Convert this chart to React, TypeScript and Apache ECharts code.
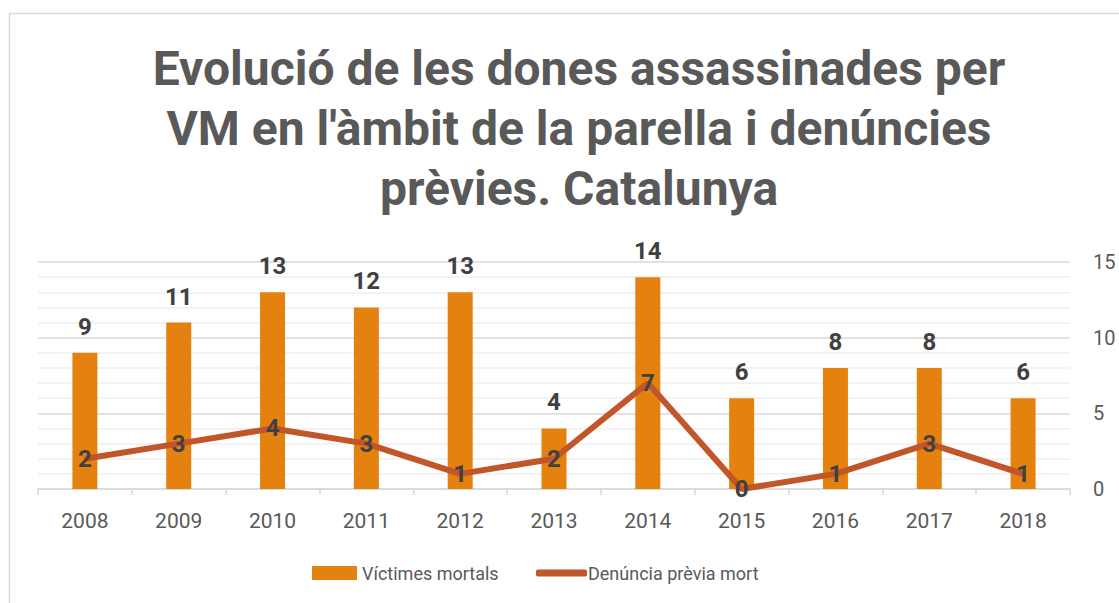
import React, { useEffect, useRef } from "react";
import * as echarts from "echarts";

const years = ["2008", "2009", "2010", "2011", "2012", "2013", "2014", "2015", "2016", "2017", "2018"];
const victimes = [9, 11, 13, 12, 13, 4, 14, 6, 8, 8, 6];
const denuncies = [2, 3, 4, 3, 1, 2, 7, 0, 1, 3, 1];
const titleText = "Evolució de les dones assassinades per\nVM en l'àmbit de la parella i denúncies\nprèvies. Catalunya";
const seriesNames = ["Víctimes mortals", "Denúncia prèvia mort"];

const FONT = "Roboto";

export default function App() {
  const ref = useRef<HTMLDivElement>(null);
  useEffect(() => {
    document.body.style.margin = "0";
    const chart = echarts.init(ref.current!, null, { renderer: "svg" });
    chart.setOption({
      animation: false,
      backgroundColor: "#ffffff",
      textStyle: { fontFamily: FONT },
      title: {
        text: titleText,
        left: 574,
        top: 33,
        textAlign: "center",
        textStyle: {
          fontFamily: FONT,
          fontWeight: "bold",
          fontSize: 48,
          lineHeight: 60,
          color: "#595959",
          align: "center",
        },
      },
      graphic: [
        {
          type: "rect",
          shape: { x: 9.5, y: 13.5, width: 1200, height: 700 },
          style: { fill: "none", stroke: "#d9d9d9", lineWidth: 1.5 },
          silent: true,
          z: -10,
        },
      ],
      legend: [
        {
          data: [seriesNames[0]],
          left: 307,
          top: 559,
          itemWidth: 45,
          itemHeight: 14,
          itemGap: 0,
          icon: "rect",
          textStyle: { fontFamily: FONT, fontSize: 18, color: "#595959" },
        },
        {
          data: [seriesNames[1]],
          left: 531,
          top: 559,
          itemWidth: 51,
          itemHeight: 7,
          icon: "roundRect",
          textStyle: { fontFamily: FONT, fontSize: 18, color: "#595959", padding: [0, 0, 0, -4] },
        },
      ],
      grid: { left: 38, right: 49, top: 262, bottom: 114, containLabel: false },
      xAxis: {
        type: "category",
        data: years,
        axisLine: { lineStyle: { color: "#d9d9d9", width: 1.5 } },
        axisTick: { show: true, length: 6, lineStyle: { color: "#d9d9d9", width: 1.5 } },
        axisLabel: { fontFamily: FONT, fontSize: 21, color: "#595959", margin: 21 },
      },
      yAxis: {
        type: "value",
        position: "right",
        min: 0,
        max: 15,
        interval: 5,
        axisLine: { show: false },
        axisTick: { show: false },
        axisLabel: { fontFamily: FONT, fontSize: 20, color: "#595959", margin: 23, align: "left" },
        splitLine: { lineStyle: { color: "#d9d9d9", width: 1.5 } },
        minorTick: { show: false, splitNumber: 5 },
        minorSplitLine: { show: true, lineStyle: { color: "#efefef", width: 1.5 } },
      },
      series: [
        {
          name: seriesNames[0],
          type: "bar",
          data: victimes,
          barWidth: 25,
          itemStyle: { color: "#E5820F" },
          label: {
            show: true,
            position: "top",
            distance: 14,
            fontFamily: FONT,
            fontWeight: "bold",
            fontSize: 24,
            color: "#404040",
          },
          z: 2,
        },
        {
          name: seriesNames[1],
          type: "line",
          data: denuncies,
          symbol: "circle",
          symbolSize: 2,
          showSymbol: true,
          lineStyle: { color: "#C0562A", width: 6 },
          itemStyle: { color: "#C0562A" },
          label: {
            show: true,
            position: "inside",
            fontFamily: FONT,
            fontWeight: "bold",
            fontSize: 24,
            color: "#404040",
          },
          z: 3,
        },
      ],
    });
    return () => chart.dispose();
  }, []);
  return <div ref={ref} style={{ width: 1119, height: 603 }} />;
}
